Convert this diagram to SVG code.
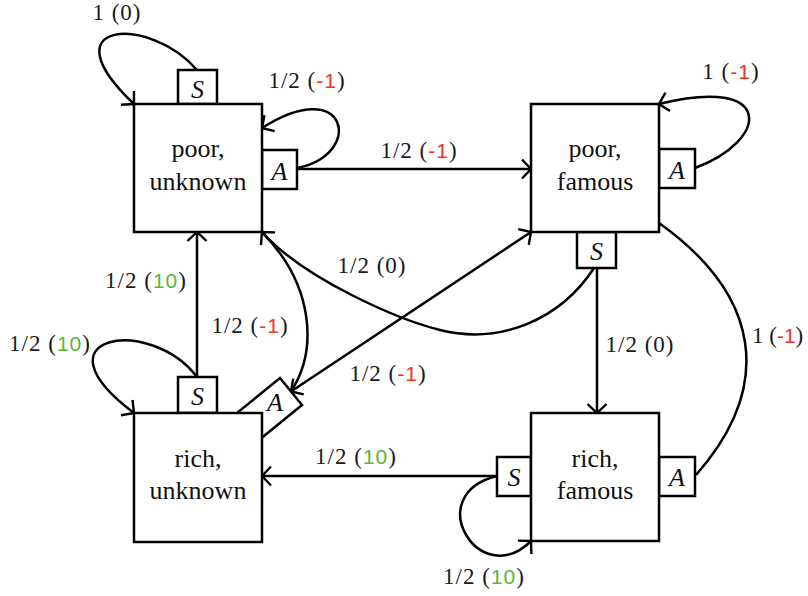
<svg xmlns="http://www.w3.org/2000/svg" width="808" height="596" viewBox="0 0 808 596">
<defs>
<marker id="arr" viewBox="-12 -12 14 24" markerWidth="14" markerHeight="24" refX="0" refY="0" markerUnits="userSpaceOnUse" orient="auto-start-reverse">
<path d="M-9,-9.5 L0,0 L-9,9.5" fill="none" stroke="#000" stroke-width="2.4" stroke-linejoin="miter"/>
</marker>
<style>
.box{fill:#fff;stroke:#000;stroke-width:2.5}
.port{fill:#fff;stroke:#000;stroke-width:2.5}
.edge{fill:none;stroke:#000;stroke-width:2.5}
.arrow{marker-end:url(#arr)}
.lbl{font-family:"Liberation Serif",serif;font-size:23px;text-anchor:middle;fill:#1a1a1a;letter-spacing:1px}
.nt{font-family:"Liberation Serif",serif;font-size:26px;text-anchor:middle;fill:#111}
.act{font-family:"Liberation Serif",serif;font-style:italic;font-size:26px;text-anchor:middle;fill:#111}
.red{fill:#ee3524;font-family:"Liberation Sans",sans-serif;font-size:21px}
.green{fill:#5db43a;font-family:"Liberation Sans",sans-serif;font-size:21px}
</style>
</defs>
<rect width="808" height="596" fill="#fff"/>

<g id="connectors">
<path class="edge arrow" d="M197,70 C150,15 45,20 134,104"/>
<path class="edge arrow" d="M297,168 C365,155 348,73 262,128"/>
<path class="edge arrow" d="M297,169 L531,169"/>
<path class="edge arrow" d="M695,168 C770,140 775,75 659,104"/>
<path class="edge" d="M659,223 C760,295 775,385 696,475"/>
<path class="edge arrow" d="M197,377 L197,232"/>
<path class="edge arrow" d="M197,377 C150,315 30,335 134,413"/>
<path class="edge" d="M291,391.5 C318,350 314,285 262,232"/>
<path class="edge arrow" marker-start="url(#arr)" d="M291,391.5 L531,232"/>
<path class="edge arrow" d="M597,268 L597,413"/>
<path class="edge arrow" d="M594,268 C560,320 500,345 440,330 C400,320 305,280 262,232"/>
<path class="edge arrow" d="M497,476 L262,476"/>
<path class="edge arrow" d="M497,476 C420,495 480,592 531,541"/>
</g>

<g id="labels">
<text class="lbl" x="117" y="20">1 (0)</text>
<text class="lbl" x="307" y="88">1/2 (<tspan class="red">-1</tspan>)</text>
<text class="lbl" x="419" y="158">1/2 (<tspan class="red">-1</tspan>)</text>
<text class="lbl" x="731" y="79">1 (<tspan class="red">-1</tspan>)</text>
<text class="lbl" x="372" y="273">1/2 (0)</text>
<text class="lbl" x="146" y="288">1/2 (<tspan class="green">10</tspan>)</text>
<text class="lbl" x="250" y="333">1/2 (<tspan class="red">-1</tspan>)</text>
<text class="lbl" x="50" y="351">1/2 (<tspan class="green">10</tspan>)</text>
<text class="lbl" x="388" y="381">1/2 (<tspan class="red">-1</tspan>)</text>
<text class="lbl" x="640" y="352">1/2 (0)</text>
<text class="lbl" x="752" y="343" style="text-anchor:start;letter-spacing:0">1 (<tspan class="red">-1</tspan>)</text>
<text class="lbl" x="356" y="464">1/2 (<tspan class="green">10</tspan>)</text>
<text class="lbl" x="484" y="584">1/2 (<tspan class="green">10</tspan>)</text>
</g>

<g id="poor-unknown">
<rect class="port" x="178" y="70" width="39" height="34"/>
<rect class="port" x="262" y="150" width="35" height="39"/>
<rect class="box" x="134" y="104" width="128" height="128"/>
<text class="act" x="197.5" y="98">S</text>
<text class="act" x="279.5" y="180">A</text>
<text class="nt" x="198" y="157">poor,</text>
<text class="nt" x="198" y="190">unknown</text>
</g>

<g id="poor-famous">
<rect class="port" x="659" y="149" width="36" height="39"/>
<rect class="port" x="577" y="232" width="39" height="36"/>
<rect class="box" x="531" y="104" width="128" height="128"/>
<text class="act" x="677" y="179">A</text>
<text class="act" x="596.5" y="260">S</text>
<text class="nt" x="595" y="157">poor,</text>
<text class="nt" x="595" y="190">famous</text>
</g>

<g id="rich-unknown">
<polygon class="port" points="233.4,415.9 280,378 302,405 255.4,442.9"/>
<rect class="port" x="178" y="377" width="39" height="36"/>
<rect class="box" x="134" y="413" width="128" height="129"/>
<text class="act" x="197.5" y="405">S</text>
<text class="act" x="275" y="411">A</text>
<text class="nt" x="198" y="467">rich,</text>
<text class="nt" x="198" y="499">unknown</text>
</g>

<g id="rich-famous">
<rect class="port" x="497" y="457" width="34" height="39"/>
<rect class="port" x="659" y="457" width="36" height="39"/>
<rect class="box" x="531" y="413" width="128" height="128"/>
<text class="act" x="514" y="486">S</text>
<text class="act" x="677" y="486">A</text>
<text class="nt" x="595" y="467">rich,</text>
<text class="nt" x="595" y="499">famous</text>
</g>
</svg>
